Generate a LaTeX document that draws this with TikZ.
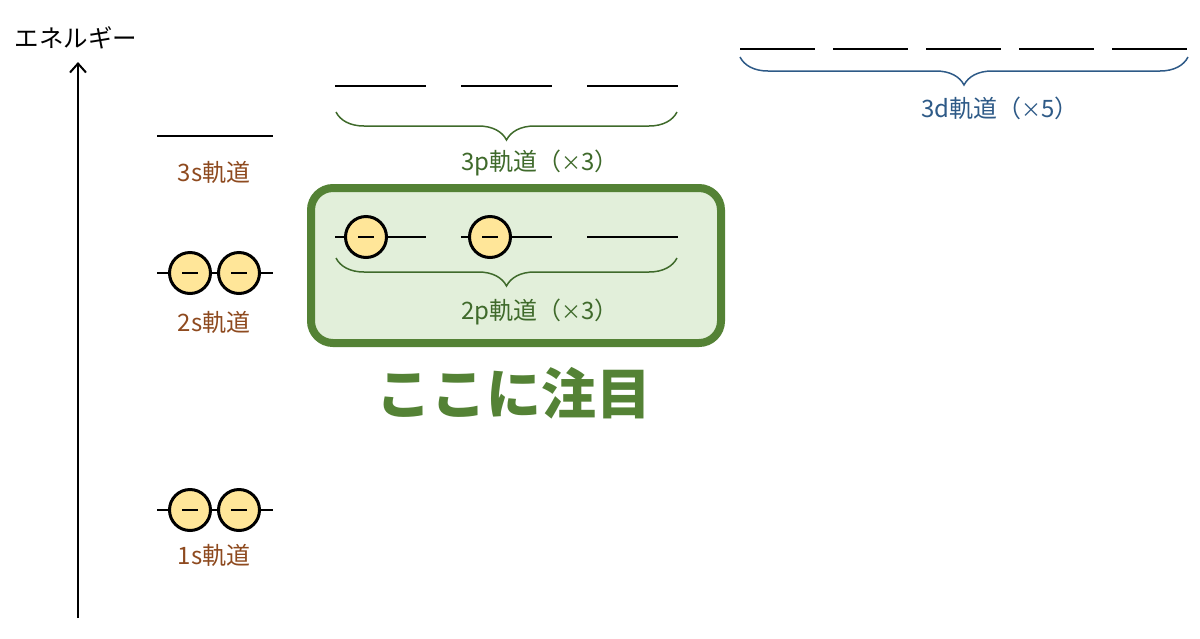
\documentclass[tikz,border=0pt]{standalone}
\usepackage{fontspec}
\setmainfont{Noto Sans CJK JP}
\newfontfamily\heavyjp{Noto Sans CJK JP Black}
\usetikzlibrary{arrows.meta,positioning,decorations.pathreplacing,calc}
\definecolor{rust}{HTML}{8E4A1F}
\definecolor{moss}{HTML}{3F6A2B}
\definecolor{mossd}{HTML}{548235}
\definecolor{mossl}{HTML}{E2EFDA}
\definecolor{navy}{HTML}{2E5A87}
\definecolor{pale}{HTML}{FFE699}

\begin{document}
\begin{tikzpicture}[x=1pt, y=-1pt,
      lvl/.style={line width=2pt},
      elec/.style={circle, draw=black, line width=3pt, fill=pale, minimum size=41pt, inner sep=0pt,
        path picture={\draw[line width=2pt] ([xshift=-8pt]path picture bounding box.center) -- ([xshift=8pt]path picture bounding box.center);}},
      lbl/.style={font=\fontsize{24}{28}\selectfont},
      grp/.style={decorate, decoration={brace, mirror, amplitude=28pt}, line width=1.5pt},
      focus/.style={draw=mossd, line width=8pt, fill=mossl, rounded corners=22pt, inner sep=0pt}]
    \useasboundingbox (0,0) rectangle (1200,638);
    % energy axis
    \coordinate (ax0) at (78,618);
    \coordinate (ax1) at (78,62);
    \draw[line width=2pt, -{Straight Barb[length=9pt, width=16pt, line width=2pt]}] (ax0) -- (ax1);
    \node[font=\fontsize{24.5}{28}\selectfont] (axis) at (76,38) {エネルギー};
    % s levels
    \draw[lvl] (157,136) -- (273,136);
    \draw[lvl] (157,273) -- (273,273);
    \draw[lvl] (157,510) -- (273,510);
    \node[elec] (e2a) at (190,273) {};
    \node[elec] (e2b) at (239,273) {};
    \node[elec] (e1a) at (190,510) {};
    \node[elec] (e1b) at (239,510) {};
    \node[lbl, text=rust] (l3s) at (214,172) {3s軌道};
    \node[lbl, text=rust] (l2s) at (214,322) {2s軌道};
    \node[lbl, text=rust] (l1s) at (214,555) {1s軌道};
    % highlighted 2p group
    \node[focus, minimum width=410pt, minimum height=155pt] (box) at (516,265.5) {};
    \foreach \x in {335,461,587} {
      \draw[lvl] (\x,86) -- ++(91,0);
      \draw[lvl] (\x,237) -- ++(91,0);
    }
    \node[elec] (e2p1) at (366,237) {};
    \node[elec] (e2p2) at (490,237) {};
    \draw[grp, draw=moss] (336,112) -- (677,112);
    \draw[grp, draw=moss] (336,258) -- (677,258);
    \node[lbl, text=moss] (l3p) at (540,163) {3p軌道（{\fontsize{20}{24}\selectfont×}3）};
    \node[lbl, text=moss] (l2p) at (540,312) {2p軌道（{\fontsize{20}{24}\selectfont×}3）};
    % 3d levels
    \foreach \x in {740,833,926,1019,1112}
      \draw[lvl] (\x,49) -- ++(75,0);
    \draw[grp, draw=navy] (740,57) -- (1188,57);
    \node[lbl, text=navy] (l3d) at (1000,108) {3d軌道（{\fontsize{20}{24}\selectfont×}5）};
    \node[font=\fontsize{55}{60}\selectfont\heavyjp, text=mossd] (note) at (514,393) {ここに注目};
  \end{tikzpicture}
\end{document}
